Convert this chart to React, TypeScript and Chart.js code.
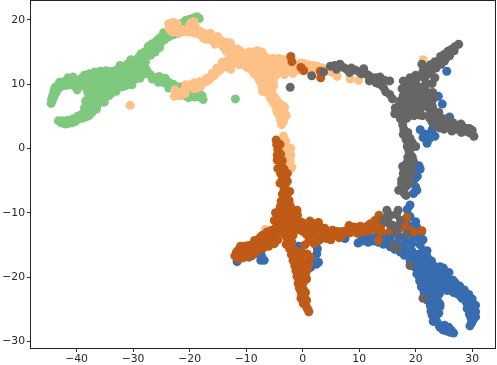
import React, { useEffect, useRef } from "react";
import { Chart, registerables } from "chart.js";

Chart.register(...registerables);

type P = [number, number];

const xTickValues = [-40, -30, -20, -10, 0, 10, 20, 30];
const yTickValues = [-30, -20, -10, 0, 10, 20];

const greenPoints: P[] = [
  [-44.5,7],[-44.4,7.7],[-44.2,8.3],[-44,9],[-43.8,9.5],[-43.2,9.9],[-42.7,10.2],[-42.2,10.4],[-41.6,10.5],[-41,10.7],[-40.4,10.3],[-39.9,9.1],[-39.6,9.8],[-39.4,10.7],
  [-44.3,7.4],[-44,8],[-43.6,8.7],[-43.2,9.3],[-42.5,9.7],[-41.8,9.8],[-41,9.9],[-40.3,9.7],[-41.5,11],[-40.6,11.1],[-43,10.3],
  [-38.6,10.7],[-37.9,11],[-37.2,11.2],[-36.5,11.3],[-35.8,11.5],[-35,11.4],[-34.3,11.8],[-33.6,11.6],[-32.9,12.2],[-32.3,12.9],[-31.6,12.8],[-30.9,13.2],[-30.4,13.8],[-29.7,13.6],[-29,14.2],[-28.6,14.7],[-28,15],[-27.3,15.9],[-27,15.1],[-26.5,15.4],[-26.6,16.3],[-25.9,16.7],[-25.3,17.2],[-24.6,18],[-24,17.8],[-23.3,18.3],[-22.7,18.4],[-22,18.6],[-21.3,19.5],[-20.7,19.9],[-20,20.1],[-19.3,20.3],[-18.7,20.5],
  [-38.5,9.6],[-37.6,10],[-36.7,10.5],[-35.6,10.6],[-34.6,10.4],[-33.7,10.7],[-32.7,11.2],[-31.8,11.6],[-30.9,11.9],[-30,12.4],[-29.2,12.8],[-28.4,12.9],[-27.8,13.4],
  [-37.3,9],[-36.4,9.5],[-35.4,9.7],[-34.4,9.5],[-33.5,9.2],[-32.6,10],[-31.7,10.5],[-30.7,10.3],[-30.2,9.9],[-29.6,10.8],[-28.7,11.2],[-27.9,11.6],[-30.7,11],[-29,12],[-27.7,12.3],
  [-38.6,11.4],[-37.7,11.6],[-36.8,11.9],[-35.8,12],[-34.8,12.1],[-33.8,12],[-33,11.3],[-32,12],[-31,12.6],[-30,13],[-29.1,13.2],[-28.3,13.8],[-27.6,14.3],[-26.9,14.5],[-26.1,15],[-25.8,15.7],[-25.2,16.3],[-24.4,16.9],[-23.6,17.4],[-22.8,17.7],[-22,17.9],
  [-38.1,10.4],[-37,10.7],[-36,11],[-35,10.9],[-34,11],[-33.2,10.4],[-32.4,10.5],[-31.5,11],[-30.2,11.4],[-31.2,9.8],[-31.9,9.6],[-33,9.6],[-38,9],[-36.9,9.7],[-35.8,9.9],[-34.7,9.1],[-33.8,8.9],[-29.7,11.7],[-28.5,12.1],[-28.8,10.9],[-36.9,8.5],[-36,8.9],[-35.2,8.5],[-34.3,8.2],[-37.8,8.3],[-38.4,7.4],
  [-38.8,10.1],[-39,11],[-39.5,10.1],[-38,11.5],[-28,14.2],[-27.5,15.2],[-26.3,16],[-25.3,15.7],[-24.7,16.9],[-24.2,17.2],[-21.8,19.1],[-21,19.3],[-20.3,19.5],[-19.7,19.7],[-19.1,19.9],[-19,20.1],[-18.3,20.2],[-33,8.9],[-33.7,9.8],[-32,11],[-31.2,10.2],[-37,7],[-36.6,7.8],[-38,8.7],
  [-36.5,8.7],[-35.6,8.4],[-34.8,8.6],[-33.8,8.6],[-35.1,7.2],
  [-43.2,4.3],[-42.7,4],[-42,3.8],[-41.4,3.9],[-40.8,4],[-40.2,4.2],[-39.6,4.6],[-39,4.7],[-38.4,4.9],[-37.8,5.1],[-37.3,5.6],[-37,6.1],[-36.7,6.7],[-37.5,6.7],[-37.9,6.2],[-37.6,7.6],[-36.9,7.4],[-36.2,7.6],[-36.2,6.9],[-37.1,8.2],
  [-42.4,4.3],[-41.5,4.4],[-40.6,4.6],[-39.8,5],[-39.1,5.3],[-38.4,5.6],[-38.6,6.3],[-38.2,7],[-36.5,6.1],
  [-27.5,12],[-26.7,11.2],[-25.9,10.8],[-25,10.9],[-24.3,10.9],[-23.7,10.3],[-22.9,10],[-23.7,9.4],[-22.6,9.3],[-21.7,9.6],[-20.9,9.4],[-21.2,8.3],[-20.5,8.1],[-19.8,8.2],[-19.1,8],[-18.3,8],[-17.8,8.2],[-17.6,7.6],
  [-26.6,10.8],[-25.5,10.3],[-24.5,10.2],[-20,9],[-19,8.8],[-18.3,8.6],
  [-27,11.5],[-26.2,10.9],[-25.4,11.2],[-24.7,10.5],[-23.3,10],[-22.5,9.6],[-20.6,9],[-20.2,7.9],[-19.5,8.6],[-18.6,8.4],
  [-11.9,7.7]
];

const lightOrangePoints: P[] = [
  [-23.6,18.7],[-23.3,19.4],[-22.8,19.1],[-22.4,19],[-23,18.1],[-22.2,18.4],[-21.6,18.5],[-20.8,18.5],[-20,19],[-19.4,19.4],[-19,19],[-18.7,18.5],[-18.1,18.2],[-17.5,17.9],[-16.9,17.7],[-16.3,17.9],[-15.7,17.2],[-15,17.4],[-14.5,16.8],[-14,16.5],[-13.4,16.5],[-12.8,16.4],[-12.9,15.5],[-12.2,15.5],[-11.6,15.5],[-11.1,15.2],[-10.5,14.8],[-10,14.6],[-9.4,13.9],
  [-23.7,19.4],[-22.9,19.6],[-22.2,19.4],[-23.4,18.4],[-21.1,18.1],[-20,18.1],[-19.2,18],[-18.2,17.7],[-17.1,17],[-16,16.8],[-15,16.5],[-14,15.7],[-13.2,15.3],[-12,14.5],[-11,14.1],[-19.8,19.5],[-19.2,19.7],
  [-15.5,16.2],[-16.5,17],[-17.5,17.1],[-13.5,15.1],[-19,17.9],[-22.8,18.3],[-22,18],
  [-22.7,8.1],[-22.6,9.1],[-22,8.7],[-21.2,8.9],[-20.5,9.5],[-19.9,9.9],[-19.2,9.3],[-18.6,9.4],[-18.1,9.6],[-17.5,10.2],[-16.8,10.5],[-16.3,10.9],[-15.7,11.3],[-15,11.9],[-14.5,12.3],[-14,12.7],[-13.4,13.6],[-13.3,12.7],[-12.6,12.9],[-12,13.3],[-11.4,14],[-10.9,14.3],[-10.2,13.5],[-9.9,12.6],
  [-20.7,9.9],[-19.2,10.2],[-18.2,10.4],[-17,10.9],[-16,11.7],[-15.2,12.5],[-14.2,13.4],[-12.9,14],[-12.7,12.3],[-11.2,13],[-21.7,8.2],[-20.8,8.5],
  [-9.2,14.3],[-8.7,14.6],[-8,14.6],[-7.4,14.5],[-6.8,14.4],[-9.1,13.5],[-8.4,13.4],[-7.5,13.4],[-6.6,13.4],[-5.8,13.3],[-5.1,13.4],[-4.4,13.3],[-3.6,13.2],[-2.8,13.2],[-2,13.1],[-1.4,12.6],[-1.7,11.7],[-2.8,12.2],[-3.8,12.1],[-4.8,12.2],[-5.9,12.3],[-7.1,12.3],[-8.2,12.4],[-9.1,12.3],[-8.6,11.6],[-7.6,11.4],[-6.8,11.3],[-5.8,11.2],[-4.7,11.4],[-0.4,13.3],[0.2,13.2],[1,13],[1.9,12.9],[2.6,12.8],[3.5,12.5],[4.3,12],[5.3,11.8],[6.1,11.2],[8.4,10.8],[9.9,10.6],
  [-8.8,15],[-8,15.2],[-7.2,15],[-9.5,15],[-6.2,14],[-5.2,14],[-4.2,14],[-3.3,13.8],[-0.5,12.2],[0.5,12.4],[1.5,12.1],[-3.2,11.5],[-6.1,10.6],[-5.2,10.5],[-7.5,13],[-8.1,12],[-5.1,9.8],
  [-7.9,14],[-7.1,13.9],[-8.9,13.8],[-9.7,14.4],[-8.6,13],[-6,12.8],[-5.4,12.6],[-4,12.7],[-3.3,12.6],[-2.5,12.7],[-9.5,12.8],[-7.8,10.9],[-6.9,10.1],[-5.9,10.1],[-6.6,9.2],[-5.7,9.3],
  [-7.6,10.5],[-6.6,10.5],[-7.2,9.7],[-6.2,9.7],[-7.1,8.9],[-6.2,8.6],[-5.4,8.8],[-5.7,7.8],[-4.9,7.9],[-5.1,7],[-4.3,7.1],[-4.7,6.2],[-3.9,6],[-3.5,5.3],[-4.1,5.1],[-2.9,5.1],[-3.9,4.4],[-3.7,3.7],[-3.4,4.2],[-3.2,6.4],
  [-5.7,8.2],[-5.3,7.4],[-4.6,7.5],[-4.4,6.6],[-3.6,6.7],[-3.3,5.7],[-4.5,5.6],[-3.4,4.7],
  [-3.4,1.9],[-3,1.1],[-3,0.3],[-2.7,-0.4],[-2.5,-1.2],[-2.2,-1.9],[-1.9,-2.9],[-2.1,-3.2],[-3.6,0.8],[-2.8,-2.6],[-2.1,-1],[-3.3,0.2],[-2.4,-2.4],[-2.1,0],
  [21.3,13.8],[-30.5,6.7],[-6.6,-12.6]
];

const bluePoints: P[] = [
  [-11.6,-17.6],[-9.5,-16.9],[-7.9,-16.4],[-7.4,-17.4],[-6.8,-17.4],[-7.3,-16.6],[-0.7,-15.2],[-0.4,-15.7],[1.4,-18.5],[1.6,-17.4],[2.5,-16.4],[2.6,-15.6],[2.8,-17.7],[2.4,-18],[7.5,-14],[9.8,-14.7],[10.6,-14.4],[11.6,-14.6],[12.5,-14.4],[13.4,-14.6],[14.3,-14.9],[14.9,-14.3],[15.5,-15.3],[16.3,-15.7],[17.3,-16.1],[18,-16.6],
  [10.5,-14],[11.4,-14],[12.4,-13.9],[13.3,-13.5],[14.4,-13.8],[15.5,-14.3],[16.5,-14.8],[17.5,-15],[15.5,-13.4],[17,-13.7],[16.9,-12.6],[15.2,-11.6],[18.5,-9.5],[18.3,-11],
  [19,-8.8],[19.6,-7],[20,-6],[20.2,-6.5],[19,-10.6],[20,-11.4],[18.7,-12],[20.2,-12.3],[21,-13],[20.7,-14],[18.2,-14.2],[19.4,-14.7],[20.8,-15],[18.1,-15.3],[19.3,-15.9],[20.7,-16.4],[21.3,-15.9],[18.8,-16.7],[19.7,-17.1],[21.1,-17.5],[20.1,-18],[21.5,-18.2],[22.4,-17.8],[23.1,-18.2],[20.6,-18.9],[21.8,-19.1],[23,-19.2],[24.1,-19],[20.6,-19.9],[21.6,-20.1],[22.7,-20.2],[24,-20.2],[25.3,-19.8],[25.8,-20.4],[25.1,-21.2],[23.9,-21.1],[22.6,-21.3],[21.1,-21],[21.3,-21.8],[22.3,-22.1],[23.3,-22.2],[21.7,-22.7],[22.7,-23.2],[23.7,-23.1],[22.5,-23.9],[23.4,-24],[23.7,-24.8],[22.9,-24.9],[23.2,-25.6],[23.3,-26.4],[23.8,-27],[24.2,-27.6],[24.8,-28.2],[25.5,-28.4],[26.1,-28.6],[26.7,-28.7],
  [24.1,-25.6],[25.1,-27.5],[25.9,-27.9],[22.7,-25.3],[24.3,-24.2],[19.6,-13.6],[21.3,-14.2],[22,-15.9],[22.1,-17],[24.9,-18.6],[23.3,-20.6],[24.6,-20.8],[25.9,-19.3],[26.2,-21.6],[25.6,-22.1],
  [18,-16.5],[19,-16.4],[20,-16.5],[21,-16.6],[21.8,-16.5],[19,-17.5],[20,-17.5],[22,-17.4],[22.8,-17.5],[19.9,-18.5],[21,-18.5],[22.1,-18.6],[23.3,-18.6],[24.3,-18.4],[20.2,-19.5],[21.1,-19.5],[22.1,-19.6],[23.4,-19.5],[24.6,-19.5],[25.6,-19.6],[20.7,-20.6],[22,-20.6],[23,-20.7],[24.2,-20.5],[25.4,-20.6],[26.6,-20.5],[21,-21.5],[22.7,-21.6],[24,-21.5],[24.7,-21.7],[21.5,-22.6],[22.2,-22.6],[23.2,-22.7],[24.2,-22.6],[22.1,-23.6],[23,-23.6],[23.9,-23.7],[22.6,-24.5],[23.3,-24.4],[24.3,-24.6],[22.9,-25.9],[23.7,-25.9],[23.1,-26.9],[24.3,-27.8],[25,-27.9],[25.8,-27.8],[25.3,-28.3],[26.3,-28.3],
  [26.3,-20.7],[26.8,-21.2],[27.5,-21.9],[28.1,-22.4],[28.7,-22.9],[29.3,-23.4],[29.8,-24],[30.2,-24.6],[30.3,-25.3],[29.8,-25.1],[29,-24],[28.2,-23.3],[27.5,-22.7],[30.4,-26],[30.2,-26.6],[29.9,-27.1],[29.6,-27.6],[29.1,-24.9],[29.5,-25.8],[29.8,-26.4],
  [27,-20.9],[27.8,-21.4],[28.6,-22],[29.4,-22.7],[30,-23.4],[30.6,-24.4],[30.6,-25.4],[30.6,-26.2],[27,-22],[28,-23],[28.8,-23.6],[29.4,-24.5],[29.6,-25.6],[26.7,-22.4],
  [25.5,12],[24,8.1],[24.7,6.9],[26,4.9],[20.8,2.9],[21.3,1.7],[22,0.8],[22.4,1.5],[23.4,1.9],[22.9,2.9],[21.8,2.2],[20.2,-3.6],[20.6,-2.7],[20.8,-3.2],[20.3,-4.3],[19.9,-4.7],[20,-3]
];

const brownPoints: P[] = [
  [-4.7,1.3],[-4.6,0.6],[-4.4,-0.2],[-4.5,-1],[-4.5,-1.8],[-3.9,-2.3],[-3.6,-2.9],[-4.4,-3.1],[-3.2,-3.7],[-3.9,-3.9],[-3.1,-4.4],[-2.7,-3.9],[-3.6,-4.8],[-3.1,-5.7],[-2.7,-5.1],[-3.3,-6.4],[-2.8,-7.2],[-3.4,-7.9],[-2.4,-8.1],[-4,-9.1],[-3.1,-9],[-2.2,-8.9],[-3.8,-10],[-2.8,-9.9],[-1.7,-9.6],[-1,-9.6],[-4.1,-10.8],[-3,-10.8],[-1.9,-10.7],[-0.9,-10.4],[-0.9,-11.1],[-4.4,-11.9],[-3.3,-11.7],[-2.2,-11.4],[-1,-11.6],[-0.1,-11.5],[1,-11.9],[2.2,-11.7],[0.2,-12.4],[1.6,-12.6],[3,-12.2],[3.9,-12.4],[4.2,-13],[3.2,-13.3],[4.3,-14],[2.9,-14.3],[1.9,-13.5],[2,-14.8],[0.7,-13.4],[-0.7,-12.6],[-2.4,-12.6],[-3.8,-13],
  [-3.9,-0.9],[-4,0.6],[-3.6,-1.9],[-3.3,-3.2],[-4,-5.4],[-3.6,-7.1],[-2.3,-6.7],[-3.8,-8.2],[-3.5,-10.4],[-2.3,-10],[-1.4,-12],[-0.3,-12.5],[1.3,-11.3],[2.8,-11.5],[1.1,-14.4],[-3,-13.6],[-1.7,-13.5],
  [-5,-11.2],[-4.8,-10],[-5.1,-13],[-3.3,-12.6],[-1.8,-12.8],[0,-12.9],[1,-12.7],[2.5,-13],[3.8,-13.9],[0.4,-15],
  [-4.8,-12.4],[-5.5,-12.7],[-6.3,-13],[-6.4,-13.7],[-7,-14],[-7.5,-13.8],[-8.1,-14.3],[-5.2,-13.5],[-4.4,-14.2],[-5.7,-14.5],[-8.2,-15.1],[-9,-15],[-9.6,-15.1],[-9.9,-15.9],[-9,-16],[-7.3,-14.9],[-10.3,-15.2],[-11,-15.2],[-11.4,-15.8],[-10.6,-16.1],[-12,-16.7],[-11.5,-16.6],[-11.3,-17.2],[-10.5,-17],[-9.6,-16.8],[-9,-16.7],
  [-5.6,-13.1],[-7.1,-13.5],[-8.5,-14.3],[-6.6,-14.9],[-8,-15.8],[-10,-16.5],[-8.5,-16.3],[-11,-16.6],[-11.7,-16.1],
  [-7,-15.5],[-6,-15.2],[-5,-14.8],[-7.6,-15.4],[-8.9,-15.4],[-10,-15.7],[-10.8,-15.6],[-10.2,-16.8],[-9.2,-16.4],[-11.2,-16.1],
  [-2.7,-14],[-2.9,-14.9],[-1.9,-14.6],[-2.3,-15.6],[-1.3,-15.9],[-2,-16.5],[-1.1,-16.9],[-1.7,-17.4],[-0.4,-17.4],[1.3,-16.9],[-1.4,-18.2],[-0.4,-18.4],[-1.2,-19],[0,-19],[0.8,-18.9],[-1,-19.9],[0.5,-19.8],[-0.6,-20.6],[0.1,-20.9],[-0.6,-21.7],[0.1,-21.9],[-0.2,-22.6],[0.3,-23.3],[0.4,-24],[0.7,-24.7],[1.1,-25.4],
  [-0.3,-16.2],[0.2,-18],[-0.3,-19.7],[0.7,-20.3],[-0.2,-21.3],[-0.3,-23.3],[0.6,-17.6],
  [-1.8,-15.9],[-1.5,-16.5],[-0.5,-16.6],[0.8,-16.4],[-0.8,-17.9],[0.4,-18.6],[1.1,-18],[-0.8,-19.4],[0.2,-19.4],[-0.4,-20],[0.2,-20.4],[-0.8,-21],[-0.3,-22.2],[0.5,-22.4],[0.7,-23.6],[0.1,-24.1],[0.9,-25],
  [4.8,-13.4],[5.5,-13.6],[6.1,-13.5],[6.9,-13.5],[7.4,-13],[7.9,-12.7],[8.4,-13.1],[9.1,-12.2],[9.7,-13.2],[10.2,-12.1],[10.8,-12.9],[11.2,-12.2],[12,-11.7],[12.4,-12.2],[13.1,-11.5],[13.5,-10.4],[14,-13],[13.4,-14.3],[15.5,-12.8],[16.3,-13],[17.2,-12.2],[17.8,-12.2],[18.4,-10.7],[18,-11.6],[18.7,-12.6],[19.6,-13],[21.1,-12.8],
  [8.2,-12],[7,-12.9],[9.5,-12.6],[11.7,-12.8],[13,-12.6],[14,-11.5],[13.8,-12.1],[5.3,-12.7],[6.2,-12.9],[5,-14.2],[6.5,-13.9],[8.7,-12.6],[10.3,-12.8],[11.6,-12],[12.7,-11.7],[13.5,-11.2],[12.8,-11.2],
  [-2.1,14.3],[-1.9,13.5],[-0.3,12.6],[0.2,12.1],[3.1,12],[3.2,11]
];

const greyPoints: P[] = [
  [-2.2,9.5],[1.6,11.3],[3.7,11.9],[4.9,12.8],[5.7,12.9],[6.6,13.1],[7.2,12.6],[7.8,12.3],[8.6,12.5],[9.3,12.2],[10,11.9],[10.8,12.4],[11.4,11.5],[11.9,11.2],[12.4,10.7],[13,11],[13.7,11.1],[14.4,10.6],[15.4,10.5],[13.6,10],[14.3,9.5],[14.7,8.8],[15.4,8.4],[15.9,7.7],
  [6,12.3],[8.3,11.8],[10.4,11.6],[11.8,10.5],[13,10.2],
  [17.8,10.5],[18.1,9.6],[19,11],[18.9,9.8],[20,11.4],[20.8,11.2],[20,10.2],[21.3,12],[22.1,12.4],[21.6,11],[22.6,13],[23.4,13.5],[22.6,11.6],[23.6,12.5],[24.4,14.3],[24.5,13.1],[25,14.6],[25.7,15.1],[25.4,14.1],[26.3,15.4],[26.9,15.8],[27.6,16.2],
  [21.1,13.1],[23,12.3],[24,13.2],[25.1,13.6],[26,14.4],[26.8,15.2],[21.7,10],[23.4,11],[22.4,11.8],
  [22.9,10.1],[21.9,10],[21,9.4],[19.8,9],[18.5,8.7],[17.8,8.2],[18.9,7.8],[20,8],[21,8.2],[22.1,8.7],[23,8.7],[23.2,7.8],[22.1,7.6],[20.8,7.2],[19.5,7],[18.2,7],[17.1,6.8],[16.4,6.3],[16.3,5.4],[17.3,5.5],[18.4,5.7],[19.5,6],[20.8,6.1],[22,6.5],[23,6.4],[21.2,5.1],[19.7,5.1],[18.4,4.7],[17.3,4.6],
  [17.6,9.3],[19,9.3],[20.3,9.6],[21.5,9],[17.4,7.5],[18.6,7.5],[19.8,7.5],[21,7.6],[22.4,7.1],[17.4,6],[18.6,6.3],[20,6.5],[21.4,6.6],[20.3,5.7],[22.6,5.6],[18.7,5],
  [18.1,8.8],[19.3,8.4],[20.5,8.6],[21.7,8.2],[22.6,8.2],[18,7.8],[19.2,7.1],[20.2,7.2],[21.6,7.2],[22.8,7],[17.9,6.3],[19.2,6.5],[20.6,6.6],[17.8,5],[19.2,5.5],[20.7,5.2],[22.5,4.7],[23.6,5.2],[24.9,4.6],[26.6,4],[28,3.8],[29.5,3.1],[30,2.8],
  [22.8,5],[23.5,4.6],[24.1,5.6],[24.6,4.3],[25.4,3.9],[25,3],[26.1,3.3],[26.9,3.6],[27.6,3],[28.4,3.3],[28.9,2.7],[29.4,2.5],[29.9,2.3],[30.3,1.9],[23.6,3.6],[26.4,2.7],
  [24.2,3.2],[22.9,4.1],[25.6,4.5],[27.2,3],[28.1,2.5],[29,3.1],
  [17.7,3.7],[17.9,3],[17.8,2.2],[18.6,2.5],[18.3,1.4],[19,1],[19.2,0.1],[20,0.3],[18.9,-0.6],[19.4,-1.3],[18.6,-1.4],[19.6,-2],[18.4,-2.3],[19.2,-2.8],[18.2,-3.2],[17.8,-3.9],[18.8,-3.9],[17.5,-4.9],[18.4,-4.9],[17.6,-6],[18.4,-5.8],[17,-6.5],[18.3,-7.3],
  [17.5,-5.5],[18.9,-4.4],[19.4,-3.5],[19,-5.3],[18,-7],[17.7,-2.8],[18.8,-0.4],[19,1.6],[19.4,0.9],[18.5,0.3],
  [14.9,-9.6],[14.3,-11.2],[16.9,-9.6],[15.5,-10.4],[17.3,-11.2],[14.9,-10.6],[16.6,-10.3],[15.8,-11.9],[16.7,-12.1],[16.4,-13.2],[18.4,-13.3],[16,-15],[16.8,-15.5],[19,-18.2],[21.3,-23.3]
];

const EMPTY_LINE = false;

export default function App() {
  const ref = useRef<HTMLCanvasElement | null>(null);

  useEffect(() => {
    if (!ref.current) return;
    const toData = (pts: P[]) => pts.map(([x, y]) => ({ x, y }));
    const frame = {
      id: "frame",
      afterDraw(chart: any) {
        const { ctx, chartArea: a } = chart;
        ctx.save();
        ctx.strokeStyle = "#222";
        ctx.lineWidth = 1;
        ctx.strokeRect(a.left - 0.5, a.top - 0.5, a.right - a.left + 1, a.bottom - a.top + 1);
        ctx.restore();
      },
    };
    const ds = (data: P[], color: string) => ({
      data: toData(data),
      backgroundColor: color,
      borderColor: color,
      borderWidth: 0,
      pointRadius: 4.5,
      pointHoverRadius: 4.5,
      showLine: EMPTY_LINE,
    });
    const axisFont = { family: "'DejaVu Sans'", size: 10.8 };
    const common = {
      grid: { display: true, drawOnChartArea: false, drawTicks: true, tickLength: 4, tickColor: "#333", tickWidth: 1 },
      border: { display: false },
    };
    const chart = new Chart(ref.current, {
      type: "scatter",
      data: {
        datasets: [
          // first listed is drawn on top in Chart.js
          ds(greyPoints, "#666666"),
          ds(brownPoints, "#bf5b17"),
          ds(bluePoints, "#386cb0"),
          ds(lightOrangePoints, "#fdc086"),
          ds(greenPoints, "#7fc97f"),
        ],
      },
      options: {
        animation: false,
        responsive: false,
        layout: { autoPadding: false, padding: { top: 1, right: 2, left: 0, bottom: 0 } },
        plugins: { legend: { display: false }, tooltip: { enabled: false }, title: { display: false } },
        scales: {
          x: {
            type: "linear",
            min: -48.06,
            max: 34.03,
            ...common,
            afterBuildTicks: (s: any) => { s.ticks = xTickValues.map((value) => ({ value })); },
            afterFit: (s: any) => { s.height = 17; s.paddingLeft = 0; s.paddingRight = 0; },
            ticks: {
              autoSkip: false,
              maxRotation: 0,
              padding: 1,
              color: "#262626",
              font: axisFont,
              callback: (v: any) => String(v).replace("-", "\u2212"),
            },
          },
          y: {
            type: "linear",
            min: -31.03,
            max: 22.93,
            ...common,
            afterBuildTicks: (s: any) => { s.ticks = yTickValues.map((value) => ({ value })); },
            afterFit: (s: any) => { s.width = 31; s.paddingTop = 0; s.paddingBottom = 0; },
            ticks: {
              autoSkip: false,
              padding: 2,
              color: "#262626",
              font: axisFont,
              callback: (v: any) => String(v).replace("-", "\u2212"),
            },
          },
        },
      } as any,
      plugins: [frame],
    } as any);
    return () => chart.destroy();
  }, []);

  return (
    <div style={{ position: "fixed", left: 0, top: 0, width: 497, height: 365, background: "#fff" }}>
      <canvas ref={ref} width={497} height={365} style={{ display: "block", width: 497, height: 365 }} />
    </div>
  );
}
